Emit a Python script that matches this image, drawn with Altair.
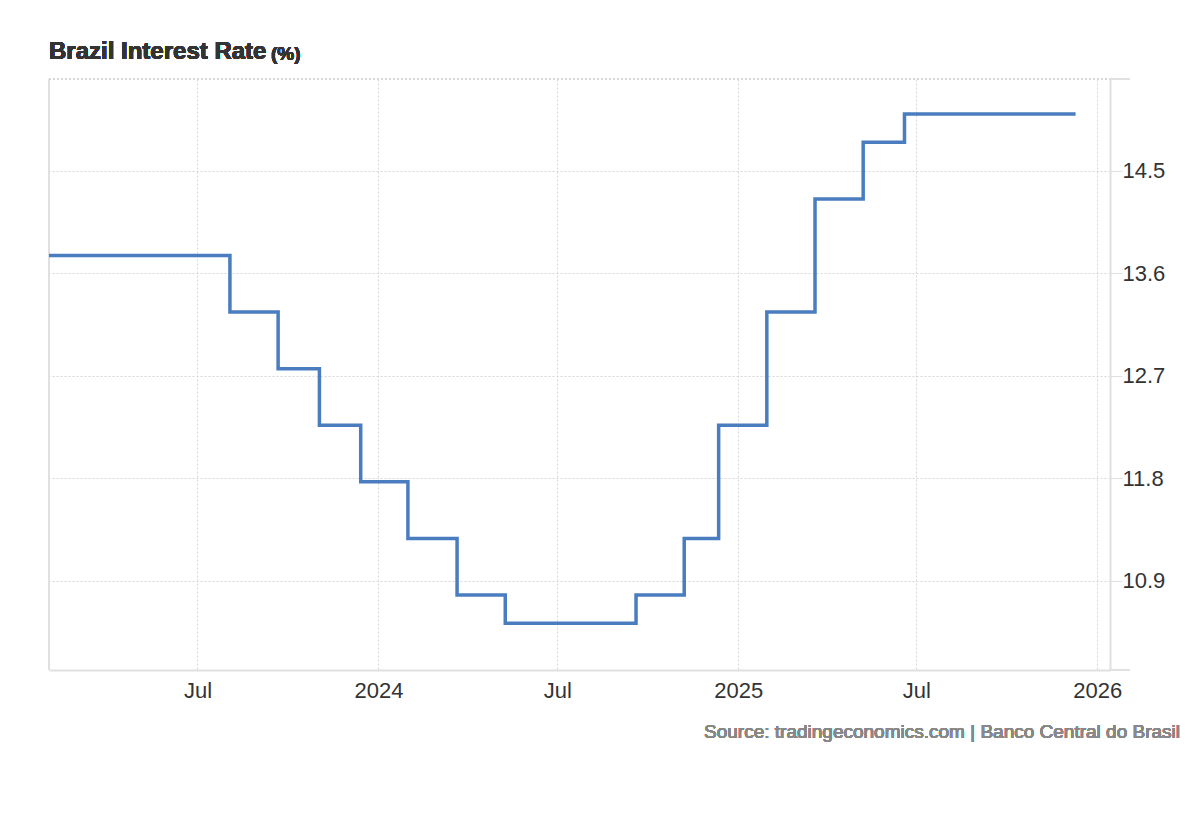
import altair as alt
import pandas as pd

# ---- data ----
dates = ["2023-01-31", "2023-08-03", "2023-09-21", "2023-11-02", "2023-12-14",
         "2024-01-31", "2024-03-21", "2024-05-09", "2024-09-19", "2024-11-07",
         "2024-12-12", "2025-01-30", "2025-03-20", "2025-05-08", "2025-06-19",
         "2025-12-10"]
rates = [13.75, 13.25, 12.75, 12.25, 11.75, 11.25, 10.75, 10.5, 10.75, 11.25,
         12.25, 13.25, 14.25, 14.75, 15.0, 15.0]
y_ticks = [10.875, 11.78125, 12.6875, 13.59375, 14.5]
x_ticks = ["2023-07-01", "2024-01-01", "2024-07-01", "2025-01-01", "2025-07-01", "2026-01-01"]

df = pd.DataFrame({"date": [d + "T00:00:00" for d in dates], "rate": rates})

W, H = 1061, 591
FONT = "Arial"
GRID = "#d6d6d6"
AXIS = "#e0e0e0"

x_domain = [alt.DateTime(year=2023, month=1, date=31), alt.DateTime(year=2026, month=1, date=14)]
x_vals = [alt.DateTime(year=int(s[:4]), month=int(s[5:7]), date=1) for s in x_ticks]

base = alt.Chart(df)

line = base.mark_line(
    interpolate="step-after", color="#4a7dbf", strokeWidth=3.5, strokeCap="butt"
).encode(
    x=alt.X("date:T", scale=alt.Scale(domain=x_domain),
            axis=alt.Axis(values=x_vals, title=None, grid=True, gridColor=GRID,
                          gridDash=[2, 2], gridWidth=1, ticks=False,
                          domain=True, domainColor=AXIS, domainWidth=2,
                          labelFont=FONT, labelFontSize=22, labelColor="#333333",
                          labelPadding=10, labelFlush=False,
                          labelExpr="month(datum.value) == 0 ? timeFormat(datum.value, '%Y') : timeFormat(datum.value, '%b')")),
    y=alt.Y("rate:Q", scale=alt.Scale(domain=[10.088, 15.309], nice=False, zero=False),
            axis=alt.Axis(orient="right", values=y_ticks, title=None, grid=True,
                          gridColor=GRID, gridDash=[2, 2], gridWidth=1,
                          ticks=True, tickSize=12, tickColor=AXIS, tickWidth=1,
                          domain=True, domainColor=AXIS, domainWidth=2,
                          labelFont=FONT, labelFontSize=22, labelColor="#333333",
                          labelPadding=0, labelFlush=False,
                          labelExpr="format(datum.value, '.1f')")),
)

left_rule = alt.Chart(df).mark_rule(color=AXIS, strokeWidth=2).encode(
    x=alt.value(0), y=alt.value(0), y2=alt.value(H))
top_rule = alt.Chart(df).mark_rule(color=GRID, strokeWidth=1, strokeDash=[2, 2]).encode(
    x=alt.value(0), x2=alt.value(W), y=alt.value(0))
top_tick = alt.Chart(df).mark_rule(color=AXIS, strokeWidth=1.5).encode(
    x=alt.value(W), x2=alt.value(W + 20), y=alt.value(0))
bottom_ext = alt.Chart(df).mark_rule(color=AXIS, strokeWidth=2).encode(
    x=alt.value(W), x2=alt.value(W + 20), y=alt.value(H))

title1 = alt.Chart(df).mark_text(
    text="Brazil Interest Rate", font=FONT, fontSize=24, fontWeight="bold",
    color="#333333", align="left", baseline="middle").encode(
    x=alt.value(0), y=alt.value(-27))
title2 = alt.Chart(df).mark_text(
    text="(%)", font=FONT, fontSize=19, fontWeight="bold",
    color="#333333", align="left", baseline="middle").encode(
    x=alt.value(222), y=alt.value(-25))
source = alt.Chart(df).mark_text(
    text="Source: tradingeconomics.com | Banco Central do Brasil", font=FONT,
    fontSize=19, color="#888888", align="right", baseline="middle").encode(
    x=alt.value(1131), y=alt.value(653))

chart = alt.layer(left_rule, top_rule, top_tick, bottom_ext, line, title1, title2, source).properties(
    width=W, height=H,
    autosize=alt.AutoSizeParams(type="none"),
    padding={"left": 41, "top": 71, "right": 80, "bottom": 100},
    background="white",
).configure_view(stroke=None)

chart.save("out.html", embed_options={"renderer": "svg", "actions": False})
